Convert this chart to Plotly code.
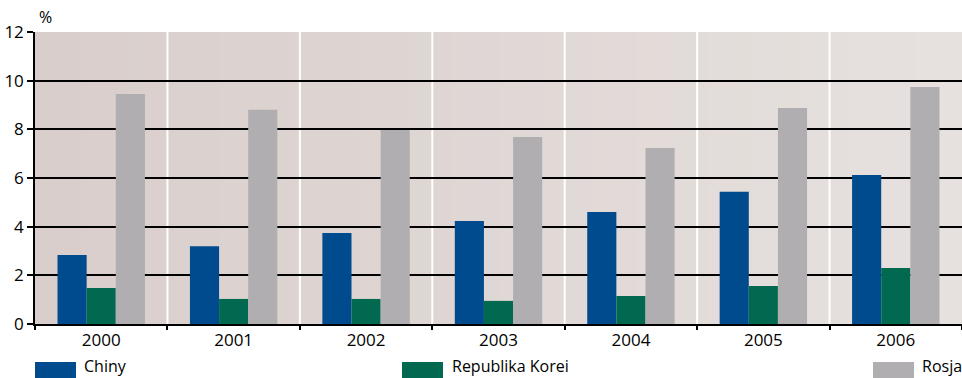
import plotly.graph_objects as go

years = ["2000", "2001", "2002", "2003", "2004", "2005", "2006"]
chiny = [2.84, 3.2, 3.74, 4.23, 4.6, 5.43, 6.12]
korea = [1.48, 1.03, 1.03, 0.95, 1.15, 1.56, 2.3]
rosja = [9.45, 8.8, 7.97, 7.69, 7.23, 8.88, 9.74]
y_ticks = [0, 2, 4, 6, 8, 10, 12]

series = [("Chiny", chiny, "#004b8d"),
          ("Republika Korei", korea, "#00694f"),
          ("Rosja", rosja, "#b0aeb1")]

W, H = 962, 378
ML, MR, MT, MB = 35, 0, 32, 54
PW = W - ML - MR
PH = H - MT - MB

fig = go.Figure()
for name, vals, col in series:
    fig.add_trace(go.Bar(x=years, y=vals, name=name, marker=dict(color=col, line=dict(width=0)),
                         showlegend=False))

shapes = []
# gradient background stripes
n = 40
c0 = (217, 206, 203)
c1 = (230, 225, 223)
for i in range(n):
    t = i / (n - 1)
    c = tuple(round(c0[k] + (c1[k] - c0[k]) * t) for k in range(3))
    shapes.append(dict(type="rect", xref="paper", yref="paper", x0=i / n, x1=(i + 1) / n + 0.002,
                       y0=0, y1=1, fillcolor="rgb(%d,%d,%d)" % c, line=dict(width=0), layer="below"))
# white separators
for i in range(len(years) - 1):
    shapes.append(dict(type="line", xref="x", yref="paper", x0=i + 0.5, x1=i + 0.5, y0=0, y1=1,
                       line=dict(color="white", width=2), layer="below"))

annotations = [dict(text="%", xref="paper", yref="paper", x=(37 - ML) / PW, y=1 + (MT - 17) / PH,
                    xanchor="left", yanchor="middle", showarrow=False,
                    font=dict(size=16, color="black"))]

# custom legend
leg = [(35, 76, 82), (402, 443, 450), (873, 914, 920)]
for (bx0, bx1, tx), (name, vals, col) in zip(leg, series):
    shapes.append(dict(type="rect", xref="paper", yref="paper",
                       x0=(bx0 - ML) / PW, x1=(bx1 - ML) / PW,
                       y0=-(362 - (H - MB)) / PH, y1=-(380 - (H - MB)) / PH,
                       fillcolor=col, line=dict(width=0)))
    annotations.append(dict(text=name, xref="paper", yref="paper", x=(tx - ML) / PW,
                            y=-(366 - (H - MB)) / PH, xanchor="left", yanchor="middle",
                            showarrow=False, font=dict(size=16, color="black")))

fig.update_layout(
    width=W, height=H,
    margin=dict(l=ML, r=MR, t=MT, b=MB),
    paper_bgcolor="white",
    plot_bgcolor="rgba(0,0,0,0)",
    barmode="group", bargap=0.34, bargroupgap=0,
    font=dict(family="Open Sans", size=17, color="black"),
    shapes=shapes, annotations=annotations,
    xaxis=dict(type="category", showgrid=False, showline=True, linecolor="black", linewidth=1.5,
               ticks="outside", tickson="boundaries", ticklen=4, tickcolor="black", tickwidth=1.5,
               tickfont=dict(size=17), zeroline=False, automargin=False),
    yaxis=dict(range=[0, 12], tickvals=y_ticks, showgrid=True, gridcolor="black", gridwidth=1.5,
               showline=True, linecolor="black", linewidth=1.5, ticks="outside", ticklen=6,
               tickcolor="black", tickwidth=1.5, zeroline=False, tickfont=dict(size=17),
               automargin=False),
)

fig.write_html("out.html", config={"displayModeBar": False},
               post_script="document.body.style.margin='0';document.body.style.overflow='hidden';")
